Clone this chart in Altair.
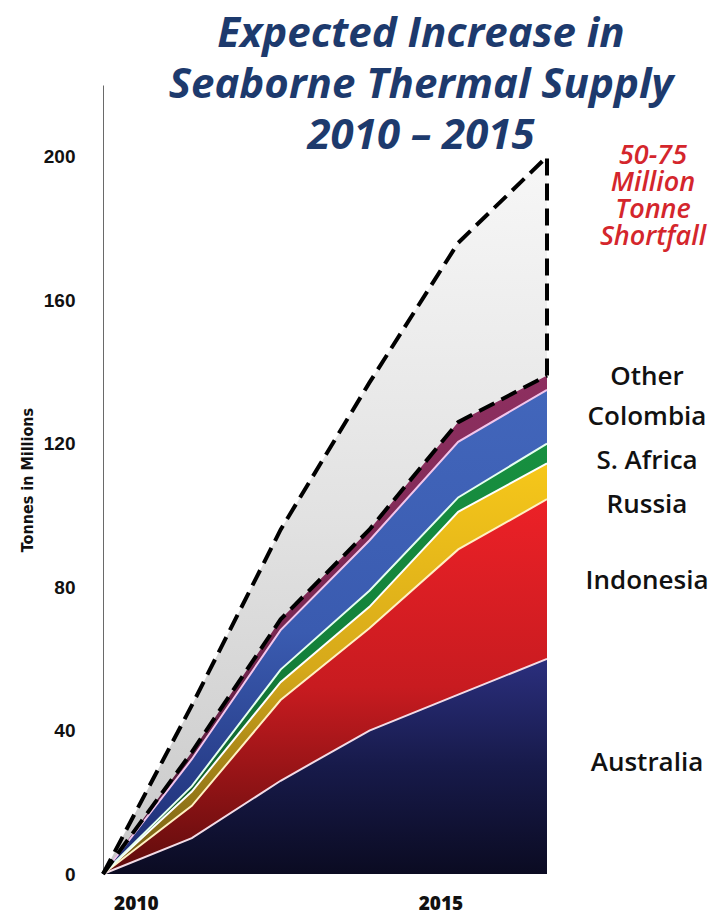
import altair as alt
import pandas as pd

# ---- data (million tonnes, increase over 2010) ----
years = [2010, 2011, 2012, 2013, 2014, 2015]
australia = [0, 10, 26, 40, 50, 60]
indonesia = [0, 9, 22.5, 28.5, 40.5, 44.5]
russia = [0, 4, 5, 6, 10.5, 10]
s_africa = [0, 1.5, 3.5, 4.5, 4, 5.5]
colombia = [0, 7.5, 11, 14, 15.5, 15]
other = [0, 2, 3, 3, 5.5, 4]
shortfall = [0, 13, 25, 41, 50, 61]

series_names = ["Australia", "Indonesia", "Russia", "S. Africa", "Colombia", "Other"]
series_values = [australia, indonesia, russia, s_africa, colombia, other]
y_ticks = [0, 40, 80, 120, 160, 200]
x_labels = ["2010", "2015"]
title_lines = ["Expected Increase in", "Seaborne Thermal Supply", "2010 \u2013 2015"]
shortfall_lines = ["50-75", "Million", "Tonne", "Shortfall"]
y_title = "Tonnes in Millions"

# ---- styles ----
W, H = 444, 789
HUMANIST = "'Open Sans', Lato, sans-serif"
NARROW = "'Liberation Sans Narrow', 'DejaVu Sans Condensed', 'Liberation Sans', sans-serif"

def vgrad(bottom, top, mid=None):
    stops = [alt.GradientStop(color=bottom, offset=0)]
    if mid:
        stops.append(alt.GradientStop(color=mid, offset=0.5))
    stops.append(alt.GradientStop(color=top, offset=1))
    return alt.Gradient(gradient="linear", stops=stops, x1=0, x2=0, y1=1, y2=0)

fills = {
    "Australia": vgrad("#0b0b22", "#2b2f7e", "#171a4a"),
    "Indonesia": vgrad("#5e0c0c", "#ec2127", "#c81b20"),
    "Russia": vgrad("#6e5a16", "#f6c71a", "#d6a91a"),
    "S. Africa": vgrad("#0e4a24", "#179040", "#13803a"),
    "Colombia": vgrad("#1c2a70", "#4266bb", "#3a5bb0"),
    "Other": vgrad("#4a1733", "#8e2f60", "#7a2852"),
}
edge = {
    "Australia": "#f3dce6",
    "Indonesia": "#fff1c4",
    "Russia": "#ffffff",
    "S. Africa": "#e6fff0",
}
# label nudges (axis units) so the stacked labels do not collide
label_nudge = {"Australia": 1, "Indonesia": -0.5, "Russia": -6.5, "S. Africa": -2,
               "Colombia": 0, "Other": 1.5}

# ---- tables ----
rows = []
cum = [0.0] * len(years)
for name, vals in zip(series_names, series_values):
    for i, yr in enumerate(years):
        rows.append({"series": name, "year": yr, "lo": cum[i], "hi": cum[i] + vals[i]})
    cum = [c + v for c, v in zip(cum, vals)]
df = pd.DataFrame(rows)
supply_top = cum
upper = [c + s for c, s in zip(cum, shortfall)]
df_short = pd.DataFrame({"year": years, "lo": supply_top, "hi": upper})

lab_rows = []
for name in series_names:
    r = df[(df.series == name) & (df.year == years[-1])].iloc[0]
    lab_rows.append({"series": name, "pos": (r.lo + r.hi) / 2 + label_nudge[name]})
df_lab = pd.DataFrame(lab_rows)

xs = alt.Scale(domain=[years[0], years[-1]], nice=False, zero=False)
ys = alt.Scale(domain=[0, 220], nice=False)

x_enc = alt.X("year:Q", scale=xs, axis=alt.Axis(
    values=[2010.37, 2013.8],
    labelExpr="datum.value < 2012 ? '" + x_labels[0] + "' : '" + x_labels[1] + "'",
    domain=False, ticks=False, grid=False, labelFont=HUMANIST, labelFontWeight=800,
    labelFontSize=19, labelColor="#111", labelPadding=20, title=None, labelFlush=False))
y_axis = alt.Axis(values=y_ticks, grid=False, ticks=False, domainColor="#6a6a6a", domainWidth=1,
                  labelFont="Liberation Sans", labelFontWeight="bold", labelFontSize=19,
                  labelColor="#111", labelPadding=28, title=y_title,
                  titleFont=NARROW, titleFontSize=16, titleFontWeight="bold",
                  titleColor="#111", titleX=-68)

layers = []
# shortfall area
layers.append(alt.Chart(df_short).mark_area(color=vgrad("#c9c9c9", "#f7f7f7", "#e2e2e2")).encode(
    x=x_enc, y=alt.Y("hi:Q", scale=ys, axis=y_axis), y2="lo:Q"))
for name in series_names:
    layers.append(alt.Chart(df).transform_filter(alt.datum.series == name)
                  .mark_area(color=fills[name]).encode(x="year:Q", y="hi:Q", y2="lo:Q"))
for name in ["Australia", "Indonesia", "Russia", "S. Africa"]:
    layers.append(alt.Chart(df).transform_filter(alt.datum.series == name)
                  .mark_line(color=edge[name], strokeWidth=2).encode(x="year:Q", y="hi:Q"))
layers.append(alt.Chart(df).transform_filter(alt.datum.series == "Colombia")
              .mark_line(color="#f2c6ec", strokeWidth=2).encode(x="year:Q", y="hi:Q"))
# dashed outlines
dash = dict(color="#000", strokeWidth=4, strokeDash=[17, 8])
layers.append(alt.Chart(df_short).mark_line(**dash).encode(x="year:Q", y="lo:Q"))
layers.append(alt.Chart(df_short).mark_line(**dash).encode(x="year:Q", y="hi:Q"))
layers.append(alt.Chart(df_short).transform_filter(alt.datum.year == years[-1])
              .mark_rule(**dash).encode(x="year:Q", y="lo:Q", y2="hi:Q"))

# series labels
layers.append(alt.Chart(df_lab).mark_text(font=HUMANIST, fontWeight=600, fontSize=26,
                                          color="#111", align="center", baseline="middle").encode(
    x=alt.value(W + 100), y="pos:Q", text="series:N"))
# shortfall label
layers.append(alt.Chart(df_short).transform_filter(alt.datum.year == years[-1])
              .mark_text(text=shortfall_lines, font=HUMANIST, fontStyle="italic", fontWeight=600,
                         fontSize=27, lineHeight=27, color="#d4262c", align="center",
                         baseline="top", dy=-14).encode(x=alt.value(W + 106), y="hi:Q"))
# title
tdf = pd.DataFrame({"k": [0]})
layers.append(alt.Chart(tdf).mark_text(text=title_lines, font=HUMANIST, fontStyle="italic",
                                       fontWeight="bold", fontSize=42, lineHeight=51,
                                       color="#1d3a6d", align="center",
                                       baseline="alphabetic").encode(
    x=alt.value(318), y=alt.value(-38)))

chart = alt.layer(*layers).properties(
    width=W, height=H,
    autosize=alt.AutoSizeParams(type="none"),
    padding={"left": 103, "top": 85, "right": 173, "bottom": 46},
    background="white",
).configure_view(stroke=None)

chart.save("out.html", embed_options={"renderer": "svg", "actions": False})
